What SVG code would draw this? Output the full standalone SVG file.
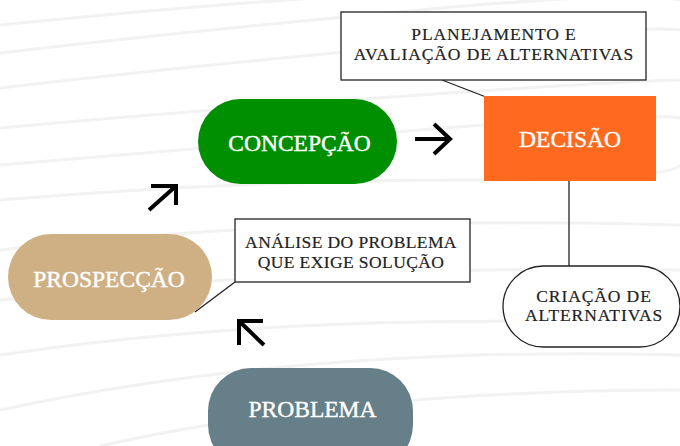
<svg xmlns="http://www.w3.org/2000/svg" width="680" height="446" viewBox="0 0 680 446">
<style>
.bg{fill:none;stroke:#f2f2f2;stroke-width:3}
.lbl{font-family:"Liberation Serif","Times New Roman",serif;text-anchor:middle}
.wt{fill:#ffffff;font-size:23.5px;stroke:#ffffff;stroke-width:0.4px}
.bk{fill:#222222;font-size:17.5px;letter-spacing:0.9px;stroke:#222222;stroke-width:0.2px}
.arr{fill:none;stroke:#000;stroke-width:4;stroke-linecap:butt;stroke-linejoin:miter}
.conn{fill:none;stroke:#222;stroke-width:1.3}
</style>
<rect width="680" height="446" fill="#ffffff"/>
<g id="background">
<path class="bg" d="M0,25 Q200,5 360,-5"/>
<path class="bg" d="M0,53 Q200,30 420,10 T680,0"/>
<path class="bg" d="M0,88 Q200,65 420,45 T680,30"/>
<path class="bg" d="M0,128 Q200,110 420,95 T680,80"/>
<path class="bg" d="M0,165 Q200,148 420,130 T680,118"/>
<path class="bg" d="M0,200 Q250,180 460,180 T680,165"/>
<path class="bg" d="M0,250 Q300,215 680,225"/>
<path class="bg" d="M0,300 Q300,265 680,270"/>
<path class="bg" d="M0,355 Q300,310 680,325"/>
<path class="bg" d="M0,410 Q300,345 680,355"/>
<path class="bg" d="M100,446 Q350,390 680,390"/>
</g>
<g id="connectors">
<line class="conn" x1="442" y1="80" x2="486" y2="97"/>
<line class="conn" x1="569" y1="181" x2="569" y2="266"/>
<line class="conn" x1="235" y1="282" x2="195" y2="312"/>
<path class="arr" d="M415,139 H450 M434,124 L450,139 L434,154"/>
<path class="arr" d="M149,210 L176,186 M151,186 H176 V205"/>
<path class="arr" d="M264,345 L239,321 M239,345 V321 H263"/>
</g>
<g id="concepcao">
<rect x="198" y="99" width="199" height="85" rx="42.5" fill="#008f00"/>
<text class="lbl wt" x="299.5" y="151">CONCEPÇÃO</text>
</g>
<g id="decisao">
<rect x="484" y="96" width="172" height="85" fill="#ff6a1f"/>
<text class="lbl wt" x="570" y="147">DECISÃO</text>
</g>
<g id="planejamento">
<rect x="341" y="12" width="305" height="68" fill="#ffffff" stroke="#222" stroke-width="1.3"/>
<text class="lbl bk" x="494" y="40">PLANEJAMENTO E</text>
<text class="lbl bk" x="494" y="60">AVALIAÇÃO DE ALTERNATIVAS</text>
</g>
<g id="prospeccao">
<rect x="8" y="234" width="204" height="86" rx="43" fill="#cfb085"/>
<text class="lbl wt" x="109" y="287">PROSPECÇÃO</text>
</g>
<g id="analise">
<rect x="235" y="219" width="235" height="63" fill="#ffffff" stroke="#222" stroke-width="1.3"/>
<text class="lbl bk" x="351" y="248" style="letter-spacing:0.4px">ANÁLISE DO PROBLEMA</text>
<text class="lbl bk" x="351" y="268" style="letter-spacing:0.4px">QUE EXIGE SOLUÇÃO</text>
</g>
<g id="problema">
<rect x="208" y="368" width="205" height="100" rx="43" fill="#677f88"/>
<text class="lbl wt" x="312.5" y="417">PROBLEMA</text>
</g>
<g id="criacao">
<rect x="503" y="266" width="177" height="81" rx="40.5" fill="#ffffff" stroke="#222" stroke-width="1.3"/>
<text class="lbl bk" x="594" y="302">CRIAÇÃO DE</text>
<text class="lbl bk" x="594" y="321">ALTERNATIVAS</text>
</g>
</svg>
